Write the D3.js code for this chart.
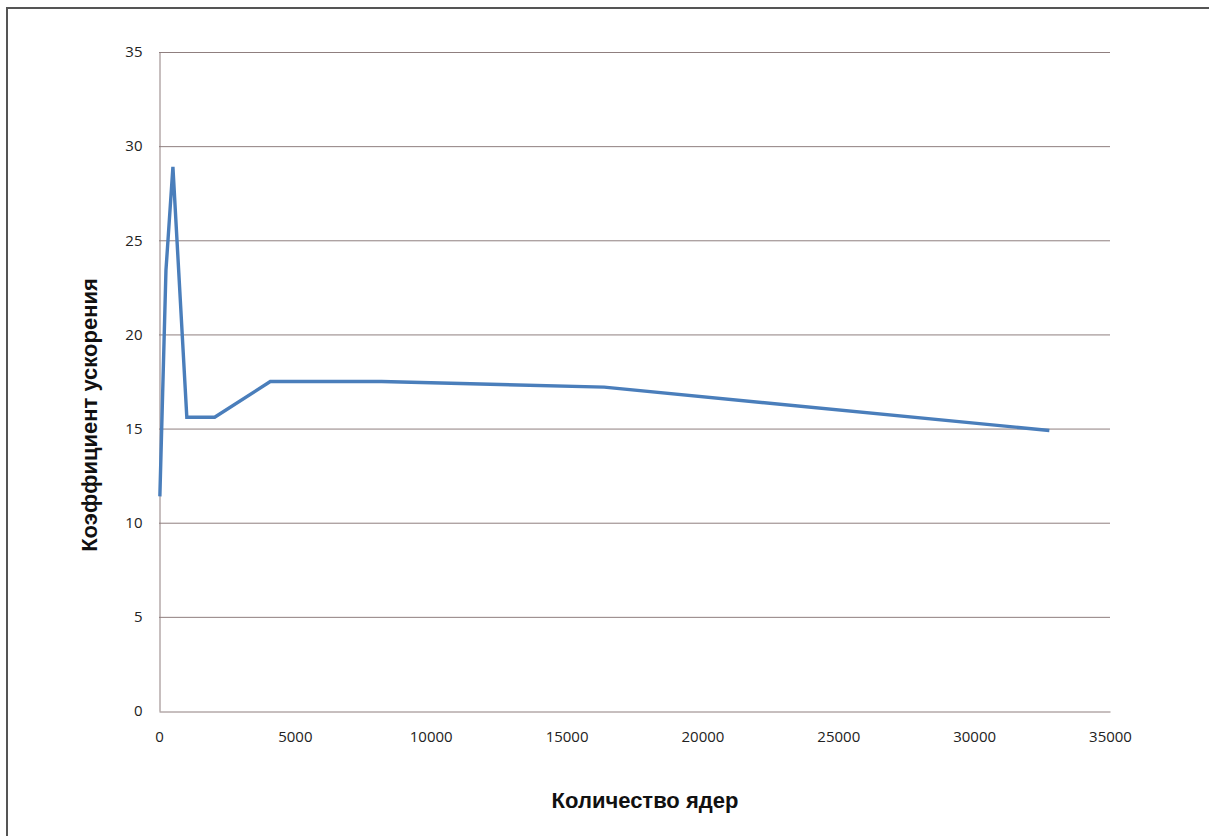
<!DOCTYPE html>
<html>
<head>
<meta charset="utf-8">
<script src="https://cdn.jsdelivr.net/npm/d3@7"></script>
<style>
  html, body { margin: 0; padding: 0; background: #fff; }
  svg { display: block; }
</style>
</head>
<body>
<svg id="chart" width="1209" height="836"></svg>
<script>
// Speedup factor versus number of cores
const cores   = [32, 256, 512, 1024, 2048, 4096, 8192, 16384, 32768];
const speedup = [11.4, 23.4, 28.9, 15.6, 15.6, 17.5, 17.5, 17.2, 14.9];
const xTicks  = [0, 5000, 10000, 15000, 20000, 25000, 30000, 35000];
const yTicks  = [0, 5, 10, 15, 20, 25, 30, 35];
const xTitle  = "Количество ядер";
const yTitle  = "Коэффициент ускорения";

const svg = d3.select("#chart");
const font = "'Liberation Sans', Arial, sans-serif";
const tickFont = "'Open Sans', 'Liberation Sans', sans-serif";

// outer frame (continues past the right and bottom edges)
svg.append("rect")
  .attr("x", 7).attr("y", 8)
  .attr("width", 1220).attr("height", 840)
  .attr("fill", "#fff")
  .attr("stroke", "#555").attr("stroke-width", 2);

const plotLeft = 159, plotRight = 1110, plotTop = 52, plotBottom = 711;
const x = d3.scaleLinear().domain([0, 35000]).range([plotLeft, plotRight]);
const y = d3.scaleLinear().domain([0, 35]).range([plotBottom, plotTop]);

const gridColor = "#8f7f7f";

// horizontal gridlines
svg.append("g")
  .selectAll("line")
  .data(yTicks.filter(d => d > 0))
  .join("line")
  .attr("x1", plotLeft).attr("x2", plotRight)
  .attr("y1", d => y(d) + 0.5).attr("y2", d => y(d) + 0.5)
  .attr("stroke", gridColor).attr("stroke-width", 1);

// y axis
const yAxis = svg.append("g")
  .attr("transform", `translate(${plotLeft + 0.5},0)`)
  .call(d3.axisLeft(y).tickValues(yTicks).tickSize(0).tickPadding(17));
yAxis.select(".domain").attr("stroke", gridColor);
yAxis.selectAll("text")
  .attr("font-family", tickFont).attr("font-size", 15).attr("fill", "#222");

// x axis
const xAxis = svg.append("g")
  .attr("transform", `translate(0,${plotBottom + 0.5})`)
  .call(d3.axisBottom(x).tickValues(xTicks).tickSize(0).tickPadding(20)
    .tickFormat(d3.format("d")));
xAxis.select(".domain").attr("stroke", gridColor);
xAxis.selectAll("text")
  .attr("font-family", tickFont).attr("font-size", 15).attr("fill", "#222");

// data line
const line = d3.line()
  .x((d, i) => x(cores[i]))
  .y(d => y(d));
svg.append("path")
  .datum(speedup)
  .attr("d", line)
  .attr("fill", "none")
  .attr("stroke", "#4a7ebb")
  .attr("stroke-width", 3.4)
  .attr("stroke-linejoin", "miter");

// axis titles
svg.append("text")
  .attr("x", 645).attr("y", 808)
  .attr("text-anchor", "middle")
  .attr("font-family", font).attr("font-size", 22).attr("font-weight", "bold")
  .attr("fill", "#111")
  .text(xTitle);

svg.append("text")
  .attr("transform", "translate(97,415) rotate(-90)")
  .attr("text-anchor", "middle")
  .attr("font-family", font).attr("font-size", 22).attr("font-weight", "bold")
  .attr("fill", "#111")
  .text(yTitle);
</script>
</body>
</html>
